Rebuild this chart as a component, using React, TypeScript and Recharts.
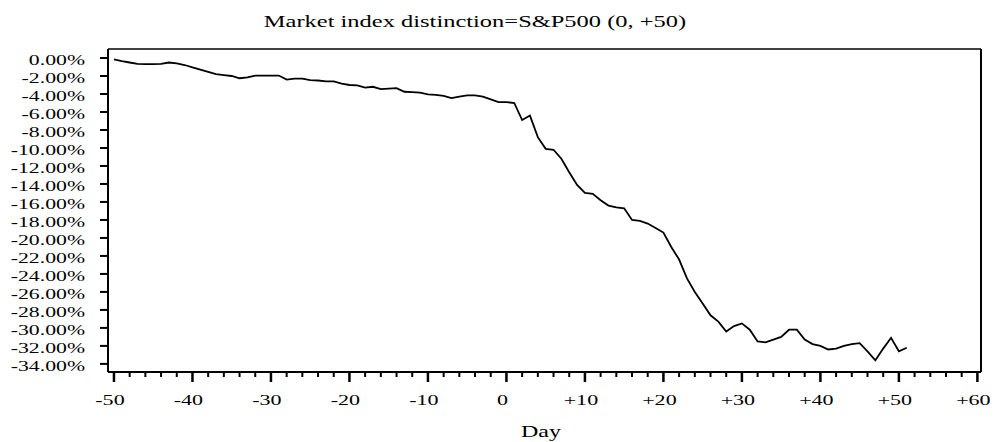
import React from 'react';
import { LineChart, Line, XAxis, YAxis, ReferenceLine } from 'recharts';

const TITLE = 'Market index distinction=S&P500 (0, +50)';
const X_LABEL = 'Day';

const days = [
  -50, -49, -48, -47, -46, -45, -44, -43, -42, -41, -40, -39, -38, -37, -36, -35, -34,
  -33, -32, -31, -30, -29, -28, -27, -26, -25, -24, -23, -22, -21, -20, -19, -18, -17,
  -16, -15, -14, -13, -12, -11, -10, -9, -8, -7, -6, -5, -4, -3, -2, -1, 0, 1, 2, 3,
  4, 5, 6, 7, 8, 9, 10, 11, 12, 13, 14, 15, 16, 17, 18, 19, 20, 21, 22, 23, 24, 25,
  26, 27, 28, 29, 30, 31, 32, 33, 34, 35, 36, 37, 38, 39, 40, 41, 42, 43, 44, 45, 46,
  47, 48, 49, 50, 51,
];

// cumulative abnormal return, percent
const cumulativeReturn = [
  -0.15, -0.35, -0.5, -0.65, -0.67, -0.67, -0.66, -0.5, -0.6, -0.78, -1.05, -1.3, -1.55,
  -1.8, -1.9, -2.0, -2.25, -2.15, -1.95, -1.95, -1.95, -1.95, -2.4, -2.3, -2.3, -2.45,
  -2.5, -2.6, -2.6, -2.85, -3.0, -3.05, -3.3, -3.2, -3.45, -3.4, -3.35, -3.75, -3.8,
  -3.85, -4.05, -4.1, -4.2, -4.45, -4.3, -4.15, -4.15, -4.3, -4.6, -4.9, -4.9, -5.0,
  -6.9, -6.4, -8.8, -10.1, -10.2, -11.2, -12.7, -14.1, -15.0, -15.1, -15.8, -16.4,
  -16.6, -16.7, -18.0, -18.1, -18.4, -18.9, -19.4, -21.0, -22.4, -24.5, -26.0, -27.3,
  -28.6, -29.3, -30.4, -29.8, -29.5, -30.2, -31.5, -31.6, -31.3, -31.0, -30.2, -30.2,
  -31.3, -31.8, -32.0, -32.4, -32.3, -32.0, -31.8, -31.7, -32.6, -33.6, -32.3, -31.1,
  -32.6, -32.2,
];

const xTicks = [
  -50, -48, -46, -44, -42, -40, -38, -36, -34, -32, -30, -28, -26, -24, -22, -20, -18,
  -16, -14, -12, -10, -8, -6, -4, -2, 0, 2, 4, 6, 8, 10, 12, 14, 16, 18, 20, 22, 24, 26,
  28, 30, 32, 34, 36, 38, 40, 42, 44, 46, 48, 50, 52, 54, 56, 58, 60,
];
const xMajor = [-50, -40, -30, -20, -10, 0, 10, 20, 30, 40, 50, 60];
const xMajorLabels = ['-50', '-40', '-30', '-20', '-10', '0', '+10', '+20', '+30', '+40', '+50', '+60'];
const yTicks = [0, -2, -4, -6, -8, -10, -12, -14, -16, -18, -20, -22, -24, -26, -28, -30, -32, -34];

const X_MIN = -50.76;
const X_MAX = 60.46;
const Y_MIN = -34.9;
const Y_MAX = 1.0;

const FONT = '"Liberation Serif", "Times New Roman", serif';

const data = days.map((d, i) => ({ day: d, ret: cumulativeReturn[i] }));

const XTick = (props: any) => {
  const { x, y, payload } = props;
  const v = payload.value;
  const idx = xMajor.indexOf(v);
  const major = idx >= 0;
  return (
    <g>
      <line x1={x} x2={x} y1={y} y2={y + (major ? 10 : 5)} stroke="#000" strokeWidth={major ? 2.5 : 2} />
      {major && (
        <text
          transform={`translate(${x - 4},${y + 33}) scale(1.47,1)`}
          textAnchor="middle"
          fontFamily={FONT}
          fontSize={15}
          fill="#000"
        >
          {xMajorLabels[idx]}
        </text>
      )}
    </g>
  );
};

const YTick = (props: any) => {
  const { x, y, payload } = props;
  const v = payload.value as number;
  return (
    <g>
      <line x1={x - 8} x2={x} y1={y} y2={y} stroke="#000" strokeWidth={2} />
      <text
        transform={`translate(${x - 23},${y + 7.5}) scale(1.45,1)`}
        textAnchor="end"
        fontFamily={FONT}
        fontSize={15}
        fill="#000"
      >
        {v.toFixed(2) + '%'}
      </text>
    </g>
  );
};

export default function App() {
  return (
    <div style={{ position: 'absolute', left: 0, top: 0, background: '#fff' }}>
      <LineChart width={994} height={442} data={data} margin={{ top: 49, right: 13, left: 0, bottom: 10 }}>
        <XAxis
          dataKey="day"
          type="number"
          domain={[X_MIN, X_MAX]}
          allowDataOverflow
          ticks={xTicks}
          interval={0}
          tick={<XTick />}
          tickLine={false}
          tickSize={0}
          tickMargin={0}
          axisLine={{ stroke: '#000', strokeWidth: 2 }}
          height={60}
        />
        <YAxis
          type="number"
          domain={[Y_MIN, Y_MAX]}
          allowDataOverflow
          ticks={yTicks}
          interval={0}
          tick={<YTick />}
          tickLine={false}
          tickSize={0}
          tickMargin={0}
          axisLine={{ stroke: '#000', strokeWidth: 2 }}
          width={108}
        />
        <ReferenceLine y={Y_MAX} stroke="#000" strokeWidth={1.5} />
        <ReferenceLine x={X_MAX} stroke="#000" strokeWidth={2} />
        <Line
          type="linear"
          dataKey="ret"
          stroke="#000"
          strokeWidth={1.8}
          dot={false}
          isAnimationActive={false}
        />
        <text
          transform="translate(475,27) scale(1.44,1)"
          textAnchor="middle"
          fontFamily={FONT}
          fontSize={17}
          fill="#000"
        >
          {TITLE}
        </text>
        <text
          transform="translate(541,437) scale(1.5,1)"
          textAnchor="middle"
          fontFamily={FONT}
          fontSize={16}
          fill="#000"
        >
          {X_LABEL}
        </text>
      </LineChart>
    </div>
  );
}
